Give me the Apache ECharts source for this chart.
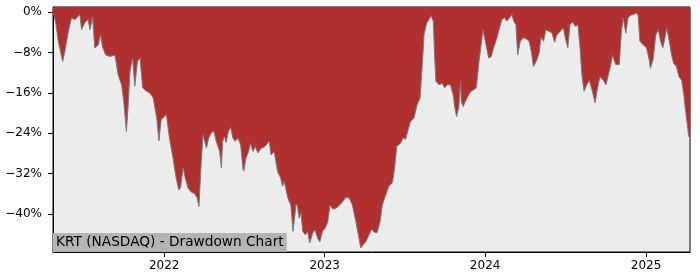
<!DOCTYPE html>
<html>
<head>
<meta charset="utf-8">
<script src="https://cdn.jsdelivr.net/npm/echarts@6/dist/echarts.min.js"></script>
<style>
html,body{margin:0;padding:0;background:#fff;}
#chart{width:700px;height:280px;}
</style>
</head>
<body>
<div id="chart"></div>
<script>
const chartTitle = "KRT (NASDAQ) - Drawdown Chart";
const yTicks = [0, -8, -16, -24, -32, -40];
const xTickYears = ["2022-01-01", "2023-01-01", "2024-01-01", "2025-01-01"];
const dates = [
"2021-04-23","2021-04-25","2021-04-30","2021-05-05","2021-05-09","2021-05-15","2021-05-20","2021-05-28","2021-06-04","2021-06-12",
"2021-06-19","2021-06-23","2021-06-27","2021-07-05","2021-07-12","2021-07-16","2021-07-22","2021-07-27","2021-08-04","2021-08-09",
"2021-08-14","2021-08-21","2021-08-31","2021-09-11","2021-09-18","2021-09-26","2021-10-01","2021-10-07","2021-10-11","2021-10-15",
"2021-10-21","2021-10-26","2021-11-01","2021-11-07","2021-11-13","2021-11-22","2021-11-29","2021-12-07","2021-12-15","2021-12-20",
"2021-12-25","2022-01-06","2022-01-13","2022-01-21","2022-01-28","2022-02-03","2022-02-07","2022-02-13","2022-02-18","2022-02-24",
"2022-03-03","2022-03-11","2022-03-17","2022-03-21","2022-03-25","2022-03-30","2022-04-03","2022-04-07","2022-04-12","2022-04-18",
"2022-04-24","2022-04-29","2022-05-07","2022-05-11","2022-05-14","2022-05-18","2022-05-22","2022-05-27","2022-06-01","2022-06-06",
"2022-06-11","2022-06-18","2022-06-24","2022-06-29","2022-07-01","2022-07-06","2022-07-12","2022-07-16","2022-07-22","2022-07-27",
"2022-08-02","2022-08-10","2022-08-16","2022-08-21","2022-08-28","2022-09-01","2022-09-08","2022-09-16","2022-09-23","2022-09-27",
"2022-10-01","2022-10-09","2022-10-16","2022-10-21","2022-10-28","2022-10-31","2022-11-04","2022-11-08","2022-11-12","2022-11-18",
"2022-11-23","2022-11-28","2022-12-05","2022-12-10","2022-12-16","2022-12-21","2022-12-27","2023-01-02","2023-01-08","2023-01-13",
"2023-01-19","2023-01-26","2023-02-03","2023-02-11","2023-02-18","2023-02-26","2023-03-05","2023-03-13","2023-03-19","2023-03-24",
"2023-03-30","2023-04-05","2023-04-12","2023-04-18","2023-04-24","2023-04-30","2023-05-07","2023-05-12","2023-05-20","2023-05-27",
"2023-06-04","2023-06-09","2023-06-14","2023-06-23","2023-06-29","2023-07-04","2023-07-09","2023-07-15","2023-07-23","2023-07-30",
"2023-08-06","2023-08-11","2023-08-15","2023-08-21","2023-08-26","2023-08-31","2023-09-05","2023-09-08","2023-09-11","2023-09-18",
"2023-09-25","2023-10-01","2023-10-07","2023-10-14","2023-10-20","2023-10-24","2023-10-28","2023-11-02","2023-11-06","2023-11-08",
"2023-11-12","2023-11-17","2023-11-25","2023-11-30","2023-12-06","2023-12-12","2023-12-18","2023-12-25","2023-12-27","2023-12-31",
"2024-01-03","2024-01-09","2024-01-15","2024-01-20","2024-01-28","2024-01-31","2024-02-08","2024-02-14","2024-02-19","2024-02-25",
"2024-03-02","2024-03-06","2024-03-11","2024-03-15","2024-03-21","2024-03-28","2024-04-05","2024-04-10","2024-04-15","2024-04-20",
"2024-04-28","2024-05-03","2024-05-07","2024-05-13","2024-05-18","2024-05-24","2024-06-01","2024-06-07","2024-06-12","2024-06-17",
"2024-06-23","2024-06-27","2024-07-01","2024-07-07","2024-07-12","2024-07-18","2024-07-24","2024-07-30","2024-08-04","2024-08-08",
"2024-08-13","2024-08-19","2024-08-25","2024-09-01","2024-09-07","2024-09-12","2024-09-18","2024-09-25","2024-10-02","2024-10-07",
"2024-10-12","2024-10-17","2024-10-20","2024-10-24","2024-11-01","2024-11-06","2024-11-10","2024-11-16","2024-11-21","2024-11-27",
"2024-12-03","2024-12-10","2024-12-14","2024-12-18","2024-12-25","2025-01-02","2025-01-08","2025-01-11","2025-01-17","2025-01-23",
"2025-01-29","2025-02-03","2025-02-08","2025-02-13","2025-02-17","2025-02-23","2025-02-28","2025-03-05","2025-03-11","2025-03-17",
"2025-03-23","2025-03-28","2025-04-01","2025-04-05","2025-04-08","2025-04-11"
];
const drawdown = [
0,-0.5,-2.5,-5.8,-6.0,-9.8,-7.8,-3.8,-1.2,-1.5,
-0.9,-0.5,-3.5,-2.0,-1.5,-3.5,-1.0,-7.1,-6.5,-4.5,
-7.0,-8.5,-8.8,-8.5,-12.4,-14.4,-17.7,-23.6,-18.4,-11.8,
-9.1,-14.7,-9.8,-9.1,-15.0,-15.7,-16.0,-17.0,-21.0,-25.5,
-21.3,-20.3,-25.0,-28.9,-32.8,-35.2,-34.8,-30.8,-32.9,-34.8,
-35.6,-35.9,-36.8,-38.5,-31.6,-24.3,-24.0,-26.9,-25.0,-23.9,
-23.6,-25.5,-27.6,-30.9,-25.6,-24.6,-25.8,-23.6,-22.8,-24.9,
-25.6,-25.0,-26.3,-30.9,-31.5,-28.9,-27.6,-26.0,-27.6,-26.6,
-27.9,-26.9,-26.8,-26.3,-25.6,-28.3,-27.6,-31.6,-32.9,-34.5,
-33.5,-36.8,-38.2,-43.4,-38.0,-38.4,-40.8,-39.8,-43.4,-44.1,
-43.4,-45.7,-43.7,-43.1,-44.8,-45.5,-43.4,-42.8,-41.5,-38.2,
-39.0,-38.9,-38.3,-37.5,-36.7,-36.8,-38.2,-41.5,-44.3,-46.7,
-46.0,-45.4,-44.1,-43.0,-43.6,-43.7,-41.5,-38.2,-36.2,-34.5,
-33.8,-30.9,-26.6,-25.9,-24.9,-25.2,-23.6,-21.7,-21.0,-18.4,
-17.0,-10.4,-4.5,-2.2,-1.5,-0.7,-1.8,-8.5,-13.7,-14.4,
-14.1,-15.0,-14.4,-14.4,-16.3,-18.9,-20.7,-18.9,-13.7,-17.7,
-18.7,-17.7,-16.3,-15.7,-15.4,-15.0,-9.8,-5.1,-3.5,-3.8,
-6.5,-9.1,-8.8,-7.1,-5.1,-4.0,-1.5,-1.1,-1.8,-1.2,
-0.5,-1.8,-2.5,-8.5,-5.8,-5.1,-5.4,-5.8,-7.8,-10.8,
-9.4,-8.0,-5.0,-5.8,-3.5,-3.8,-4.1,-6.0,-4.5,-4.1,
-3.5,-3.1,-5.0,-7.1,-2.5,-2.0,-2.8,-2.5,-7.1,-12.4,
-15.7,-14.4,-13.5,-15.7,-18.0,-15.4,-12.8,-13.4,-14.4,-12.5,
-10.8,-8.5,-9.4,-10.4,-10.4,-3.8,-1.2,-4.2,-1.2,-0.6,
-0.5,-0.2,-0.6,-5.8,-6.4,-7.1,-9.4,-11.1,-9.4,-4.6,
-3.5,-5.8,-7.1,-5.1,-3.1,-5.8,-8.5,-10.2,-10.8,-12.8,
-13.5,-16.4,-19.7,-22.3,-24.6,-25.0
];

function ts(s) { const p = s.split('-').map(Number); return Date.UTC(p[0], p[1] - 1, p[2]); }
const seriesData = dates.map((d, i) => [ts(d), drawdown[i]]);
const minus = '\u2212';

const chart = echarts.init(document.getElementById('chart'), null, {renderer: 'canvas'});
chart.setOption({
  animation: false,
  backgroundColor: '#ffffff',
  textStyle: {fontFamily: 'DejaVu Sans'},
  title: {
    text: chartTitle,
    left: 53, bottom: 28,
    padding: [2, 3, 2, 3],
    backgroundColor: '#b4b4b4',
    textStyle: {fontSize: 13.7, fontWeight: 'normal', color: '#000', fontFamily: 'DejaVu Sans', lineHeight: 15}
  },
  grid: {
    left: 53, right: 10, top: 7, bottom: 28,
    show: true, backgroundColor: '#ececec', borderColor: '#000', borderWidth: 1,
    containLabel: false
  },
  xAxis: {
    type: 'value',
    min: ts(dates[0]),
    max: ts(dates[dates.length - 1]),
    splitLine: {show: false},
    axisLine: {show: true, onZero: false, lineStyle: {color: '#000', width: 1}},
    axisTick: {show: true, length: 5, lineStyle: {color: '#000'}, customValues: xTickYears.map(ts)},
    axisLabel: {
      color: '#000', fontSize: 12, fontFamily: 'DejaVu Sans', margin: 8,
      customValues: xTickYears.map(ts),
      formatter: v => String(new Date(v).getUTCFullYear())
    }
  },
  yAxis: {
    type: 'value',
    min: -47.5, max: 1,
    splitLine: {show: false},
    axisLine: {show: true, onZero: false, lineStyle: {color: '#000', width: 1}},
    axisTick: {show: true, length: 5, lineStyle: {color: '#000'}, customValues: yTicks},
    axisLabel: {
      color: '#000', fontSize: 12, fontFamily: 'DejaVu Sans', margin: 11,
      customValues: yTicks,
      formatter: v => (v < 0 ? minus + Math.abs(v) : String(v)) + '%'
    }
  },
  series: [{
    type: 'line',
    data: seriesData,
    symbol: 'none',
    lineStyle: {color: '#7a7a7a', width: 1},
    areaStyle: {color: '#b03030', opacity: 1, origin: 'end'},
    z: 2
  }]
});
</script>
</body>
</html>
